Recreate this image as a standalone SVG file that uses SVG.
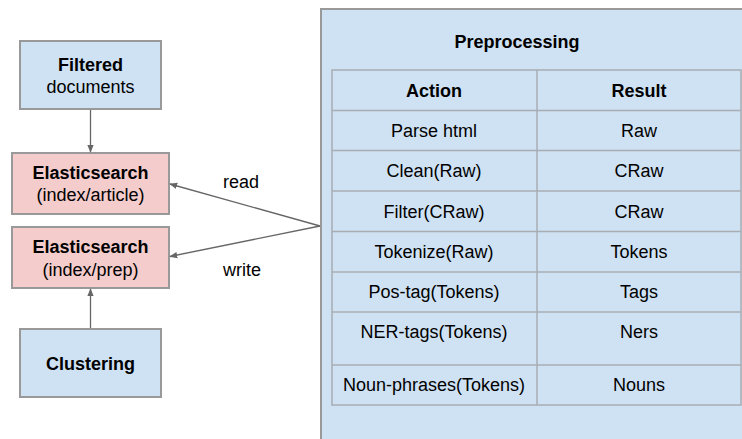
<svg xmlns="http://www.w3.org/2000/svg" width="742" height="439" viewBox="0 0 742 439">
<style>
text{font-family:"Liberation Sans",Arial,sans-serif;font-size:18px;fill:#000;text-anchor:middle}
.b{font-weight:bold}
.blue{fill:#cfe2f3;stroke:#999999;stroke-width:2}
.red{fill:#f4cccc;stroke:#999999;stroke-width:2}
.conn{stroke:#666666;stroke-width:1.3;fill:none;marker-end:url(#ah)}
.grid{stroke:#a8adb3;stroke-width:1.5;fill:none}
</style>
<defs>
<marker id="ah" viewBox="0 0 10 10" refX="9" refY="5" markerWidth="8" markerHeight="8" markerUnits="userSpaceOnUse" orient="auto">
<path d="M0,1 L10,5 L0,9 Z" fill="#666666"/>
</marker>
</defs>
<rect x="0" y="0" width="742" height="439" fill="#ffffff"/>
<g id="preprocessing">
<rect class="blue" x="321" y="9" width="440" height="450"/>
<text class="b" x="517" y="48">Preprocessing</text>
<g class="grid">
<rect x="332" y="70" width="409" height="335"/>
<line x1="537" y1="70" x2="537" y2="405"/>
<line x1="332" y1="110.5" x2="741" y2="110.5"/>
<line x1="332" y1="150.5" x2="741" y2="150.5"/>
<line x1="332" y1="191" x2="741" y2="191"/>
<line x1="332" y1="231.5" x2="741" y2="231.5"/>
<line x1="332" y1="272" x2="741" y2="272"/>
<line x1="332" y1="312" x2="741" y2="312"/>
<line x1="332" y1="365" x2="741" y2="365"/>
</g>
<text class="b" x="434" y="97">Action</text>
<text class="b" x="639" y="97">Result</text>
<text x="434" y="137">Parse html</text>
<text x="639" y="137">Raw</text>
<text x="434" y="177">Clean(Raw)</text>
<text x="639" y="177">CRaw</text>
<text x="434" y="218">Filter(CRaw)</text>
<text x="639" y="218">CRaw</text>
<text x="434" y="258">Tokenize(Raw)</text>
<text x="639" y="258">Tokens</text>
<text x="434" y="298">Pos-tag(Tokens)</text>
<text x="639" y="298">Tags</text>
<text x="434" y="338">NER-tags(Tokens)</text>
<text x="639" y="338">Ners</text>
<text x="434" y="391">Noun-phrases(Tokens)</text>
<text x="639" y="391">Nouns</text>
</g>
<g id="filtered">
<rect class="blue" x="20" y="41" width="141" height="68"/>
<text class="b" x="90.5" y="71">Filtered</text>
<text x="90.5" y="93">documents</text>
</g>
<g id="es-article">
<rect class="red" x="12" y="153" width="157" height="61"/>
<text class="b" x="90.5" y="179">Elasticsearch</text>
<text x="90.5" y="201">(index/article)</text>
</g>
<g id="es-prep">
<rect class="red" x="12" y="227" width="157" height="61"/>
<text class="b" x="90.5" y="253">Elasticsearch</text>
<text x="90.5" y="276">(index/prep)</text>
</g>
<g id="clustering">
<rect class="blue" x="20" y="329" width="141" height="68"/>
<text class="b" x="90.5" y="370">Clustering</text>
</g>
<g id="connectors">
<line class="conn" x1="90.5" y1="110" x2="90.5" y2="152"/>
<line class="conn" x1="90.5" y1="328" x2="90.5" y2="289"/>
<line class="conn" x1="320" y1="226" x2="170" y2="184"/>
<line class="conn" x1="320" y1="226" x2="170" y2="256.5"/>
<text x="241" y="188">read</text>
<text x="242" y="276">write</text>
</g>
</svg>
